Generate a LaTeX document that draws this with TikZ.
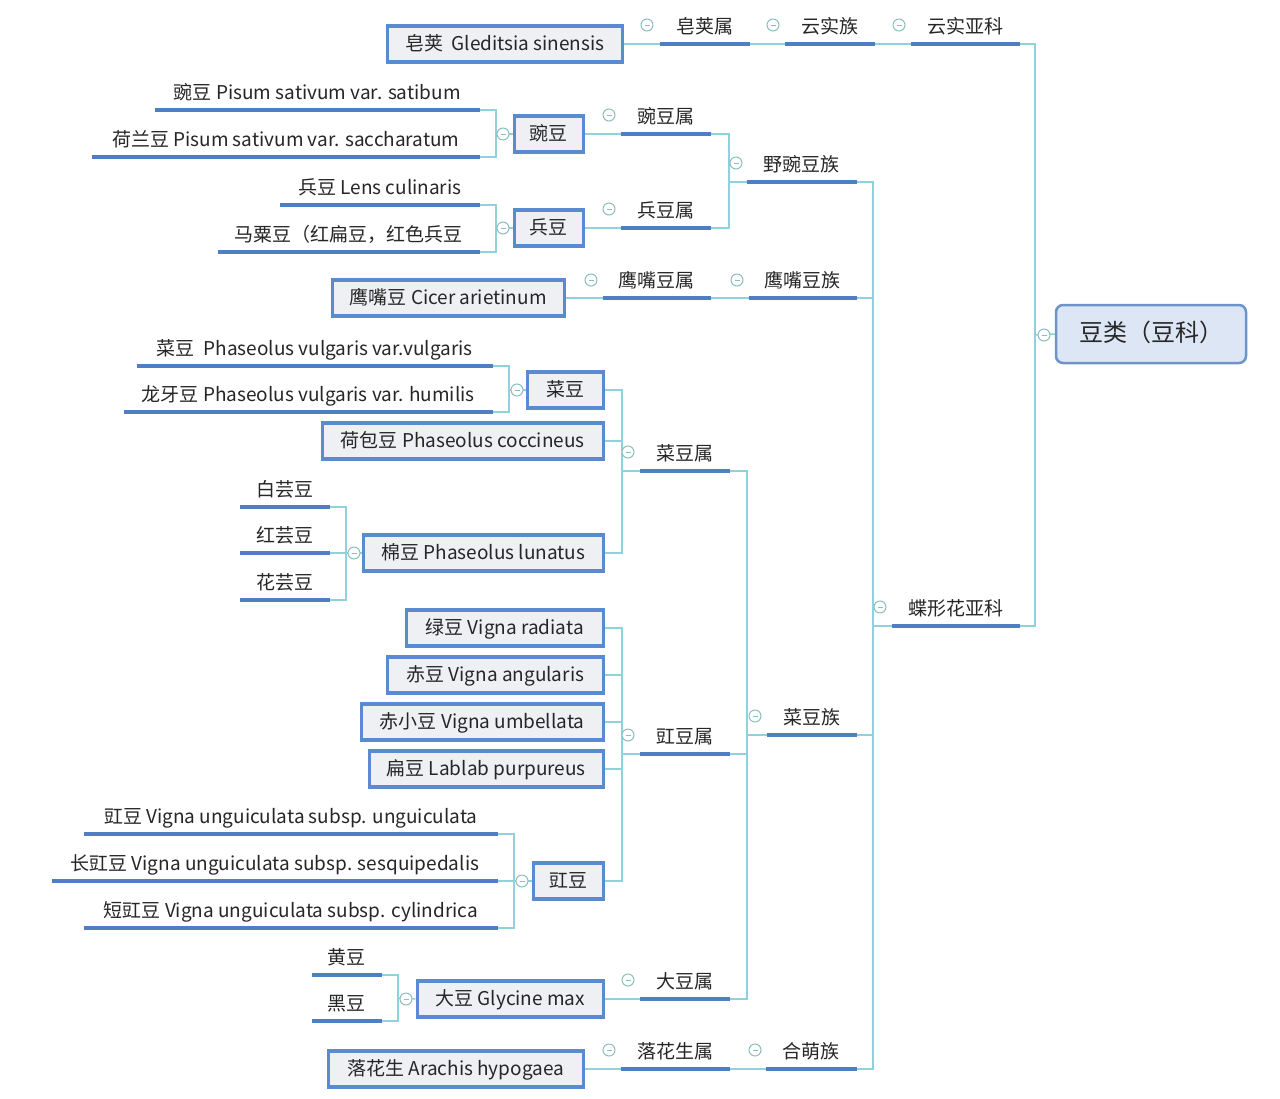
\documentclass[tikz,border=0pt]{standalone}
\usepackage{fontspec}
\setmainfont{Noto Sans CJK SC}
\definecolor{ulc}{HTML}{4F7EC2}
\definecolor{boxc}{HTML}{5A8AD0}
\definecolor{boxfill}{HTML}{EFF0F4}
\definecolor{linec}{HTML}{8FD2DB}
\definecolor{circc}{HTML}{8DBDBD}
\definecolor{txtc}{HTML}{262626}
\definecolor{rootfill}{HTML}{DDE6F4}
\definecolor{rootc}{HTML}{6E93C8}
\pgfdeclarelayer{bg}
\pgfsetlayers{bg,main}
\begin{document}
\begin{tikzpicture}[x=1pt,y=-1pt,
  every node/.style={text=txtc, font=\fontsize{19}{22}\selectfont},
  topic/.style={inner sep=0pt, minimum height=34pt, text height=16pt, text depth=3pt, anchor=south east},
  box/.style={draw=boxc, line width=3.5pt, fill=boxfill, inner sep=0pt, minimum height=36pt, text height=16pt, text depth=3pt, anchor=east},
  ul/.style={draw=ulc, line width=4pt},
  conn/.style={draw=linec, line width=1.5pt},
  tog/.style={circle, draw=circc, fill=white, line width=1pt, minimum size=12pt, inner sep=0pt,
    path picture={\draw[circc, line width=1pt] ([xshift=-2.5pt]path picture bounding box.center) -- ([xshift=2.5pt]path picture bounding box.center);}},
  rootbox/.style={draw=rootc, line width=2.5pt, fill=rootfill, rounded corners=7pt, minimum width=190pt, minimum height=58pt, inner sep=0pt, text height=19pt, text depth=4pt, font=\fontsize{24}{28}\selectfont}
]
\begin{pgfonlayer}{bg}
\fill[white] (0,0) rectangle (1280,1098);
\end{pgfonlayer}
\useasboundingbox (0,0) rectangle (1280,1098);

% root
\node[rootbox] (root) at (1151,334) {豆类（豆科）};

% topics (underlined)
\node[topic, minimum width=109] (tYunsk) at (1020,44) {云实亚科};
\node[topic, minimum width=90] (tYunsz) at (875,44) {云实族};
\node[topic, minimum width=90] (tZaoj) at (750,44) {皂荚属};
\node[topic, minimum width=128] (tDie) at (1020,626) {蝶形花亚科};
\node[topic, minimum width=110] (tYewd) at (857,182) {野豌豆族};
\node[topic, minimum width=90] (tWands) at (711,134) {豌豆属};
\node[topic, minimum width=90] (tBingds) at (711,228) {兵豆属};
\node[topic, minimum width=108] (tYingz) at (857,298) {鹰嘴豆族};
\node[topic, minimum width=108] (tYings) at (711,298) {鹰嘴豆属};
\node[topic, minimum width=90] (tCaiz) at (857,735) {菜豆族};
\node[topic, minimum width=90] (tCais) at (730,471) {菜豆属};
\node[topic, minimum width=90] (tJiangs) at (730,754) {豇豆属};
\node[topic, minimum width=90] (tDas) at (730,999) {大豆属};
\node[topic, minimum width=91] (tHem) at (857,1069) {合萌族};
\node[topic, minimum width=109] (tLuos) at (730,1069) {落花生属};

% leaves (underlined)
\node[topic, minimum width=325] (lWan1) at (480,110) {豌豆 Pisum sativum var. satibum};
\node[topic, minimum width=388] (lWan2) at (480,157) {荷兰豆 Pisum sativum var. saccharatum};
\node[topic, minimum width=200] (lBing1) at (480,205) {兵豆 Lens culinaris};
\node[topic, minimum width=262] (lBing2) at (480,252) {马粟豆（红扁豆，红色兵豆};
\node[topic, minimum width=356] (lCai1) at (493,366) {菜豆\ \ Phaseolus vulgaris var.vulgaris};
\node[topic, minimum width=369] (lCai2) at (493,412) {龙牙豆 Phaseolus vulgaris var. humilis};
\node[topic, minimum width=90] (lM1) at (330,507) {白芸豆};
\node[topic, minimum width=90] (lM2) at (330,553) {红芸豆};
\node[topic, minimum width=90] (lM3) at (330,600) {花芸豆};
\node[topic, minimum width=414] (lJ1) at (498,834) {豇豆 Vigna unguiculata subsp. unguiculata};
\node[topic, minimum width=446] (lJ2) at (498,881) {长豇豆 Vigna unguiculata subsp. sesquipedalis};
\node[topic, minimum width=414] (lJ3) at (498,928) {短豇豆 Vigna unguiculata subsp. cylindrica};
\node[topic, minimum width=70] (lD1) at (382,975) {黄豆};
\node[topic, minimum width=70] (lD2) at (382,1021) {黑豆};

% boxes
\node[box, minimum width=235] (bGled) at (624,44) {皂荚\ \ Gleditsia sinensis};
\node[box, minimum width=69] (bWan) at (585,134) {豌豆};
\node[box, minimum width=69] (bBing) at (585,228) {兵豆};
\node[box, minimum width=232] (bYing) at (566,298) {鹰嘴豆 Cicer arietinum};
\node[box, minimum width=76] (bCai) at (605,390) {菜豆};
\node[box, minimum width=281] (bHe) at (605,441) {荷包豆 Phaseolus coccineus};
\node[box, minimum width=240] (bMian) at (605,553) {棉豆 Phaseolus lunatus};
\node[box, minimum width=197] (bLv) at (605,628) {绿豆 Vigna radiata};
\node[box, minimum width=216] (bChi) at (605,675) {赤豆 Vigna angularis};
\node[box, minimum width=242] (bChix) at (605,722) {赤小豆 Vigna umbellata};
\node[box, minimum width=234] (bBian) at (605,769) {扁豆 Lablab purpureus};
\node[box, minimum width=70] (bJiang) at (605,881) {豇豆};
\node[box, minimum width=186] (bDa) at (605,999) {大豆 Glycine max};
\node[box, minimum width=255] (bLuo) at (585,1069) {落花生 Arachis hypogaea};

% underlines
\foreach \n in {tYunsk,tYunsz,tZaoj,tDie,tYewd,tWands,tBingds,tYingz,tYings,tCaiz,tCais,tJiangs,tDas,tHem,tLuos,
  lWan1,lWan2,lBing1,lBing2,lCai1,lCai2,lM1,lM2,lM3,lJ1,lJ2,lJ3,lD1,lD2}
  \draw[ul] (\n.south west) -- (\n.south east);

% bus coordinates
\coordinate (rb) at (1035,335);
\coordinate (db) at (873,626);
\coordinate (yb) at (729,182);
\coordinate (wb) at (496,134);
\coordinate (bb) at (496,228);
\coordinate (cb) at (747,735);
\coordinate (csb) at (622,471);
\coordinate (cab) at (509,390);
\coordinate (mb) at (346,553);
\coordinate (jb) at (622,754);
\coordinate (jjb) at (514,881);
\coordinate (dab) at (398,998);

\begin{pgfonlayer}{bg}
\draw[conn] (tYunsk.south east) -| (rb) |- (tDie.south east);
\draw[conn] (rb) -- (root.west);
\draw[conn] (bGled.east) -- (tZaoj.south west);
\draw[conn] (tZaoj.south east) -- (tYunsz.south west);
\draw[conn] (tYunsz.south east) -- (tYunsk.south west);
\draw[conn] (tDie.south west) -- (db);
\draw[conn] (tYewd.south east) -| (db) |- (tHem.south east);
\draw[conn] (tYingz.south east) -| (db);
\draw[conn] (tCaiz.south east) -| (db);
% 野豌豆族
\draw[conn] (tYewd.south west) -- (yb);
\draw[conn] (tWands.south east) -| (yb) |- (tBingds.south east);
\draw[conn] (bWan.east) -- (tWands.south west);
\draw[conn] (bBing.east) -- (tBingds.south west);
\draw[conn] (lWan1.south east) -| (wb) |- (lWan2.south east);
\draw[conn] (wb) -- (bWan.west);
\draw[conn] (lBing1.south east) -| (bb) |- (lBing2.south east);
\draw[conn] (bb) -- (bBing.west);
% 鹰嘴豆
\draw[conn] (bYing.east) -- (tYings.south west);
\draw[conn] (tYings.south east) -- (tYingz.south west);
% 菜豆族
\draw[conn] (tCaiz.south west) -- (cb);
\draw[conn] (tCais.south east) -| (cb) |- (tDas.south east);
\draw[conn] (tJiangs.south east) -| (cb);
% 菜豆属
\draw[conn] (csb) -- (tCais.south west);
\draw[conn] (bCai.east) -| (csb) |- (bMian.east);
\draw[conn] (bHe.east) -| (csb);
\draw[conn] (lCai1.south east) -| (cab) |- (lCai2.south east);
\draw[conn] (cab) -- (bCai.west);
\draw[conn] (lM1.south east) -| (mb) |- (lM3.south east);
\draw[conn] (lM2.south east) -- (mb);
\draw[conn] (mb) -- (bMian.west);
% 豇豆属
\draw[conn] (jb) -- (tJiangs.south west);
\draw[conn] (bLv.east) -| (jb) |- (bJiang.east);
\draw[conn] (bChi.east) -| (jb);
\draw[conn] (bChix.east) -| (jb);
\draw[conn] (bBian.east) -| (jb);
\draw[conn] (lJ1.south east) -| (jjb) |- (lJ3.south east);
\draw[conn] (lJ2.south east) -- (jjb);
\draw[conn] (jjb) -- (bJiang.west);
% 大豆属
\draw[conn] (bDa.east) -- (tDas.south west);
\draw[conn] (lD1.south east) -| (dab) |- (lD2.south east);
\draw[conn] (dab) -- (bDa.west);
% 落花生
\draw[conn] (bLuo.east) -- (tLuos.south west);
\draw[conn] (tLuos.south east) -- (tHem.south west);
\end{pgfonlayer}

% toggle circles
\node[tog] (o1) at (647,25) {};
\node[tog] (o2) at (773,25) {};
\node[tog] (o3) at (899,25) {};
\node[tog] (o4) at (1044,335) {};
\node[tog] (o5) at (880,607) {};
\node[tog] (o6) at (736,163) {};
\node[tog] (o7) at (609,115) {};
\node[tog] (o8) at (609,209) {};
\node[tog] (o9) at (737,280) {};
\node[tog] (o10) at (591,280) {};
\node[tog] (o11) at (755,716) {};
\node[tog] (o12) at (628,452) {};
\node[tog] (o13) at (628,735) {};
\node[tog] (o14) at (628,980) {};
\node[tog] (o15) at (755,1050) {};
\node[tog] (o16) at (609,1050) {};
\node[tog] (o17) at (503,134) {};
\node[tog] (o18) at (503,228) {};
\node[tog] (o19) at (517,390) {};
\node[tog] (o20) at (354,553) {};
\node[tog] (o21) at (522,881) {};
\node[tog] (o22) at (406,999) {};
\end{tikzpicture}
\end{document}
